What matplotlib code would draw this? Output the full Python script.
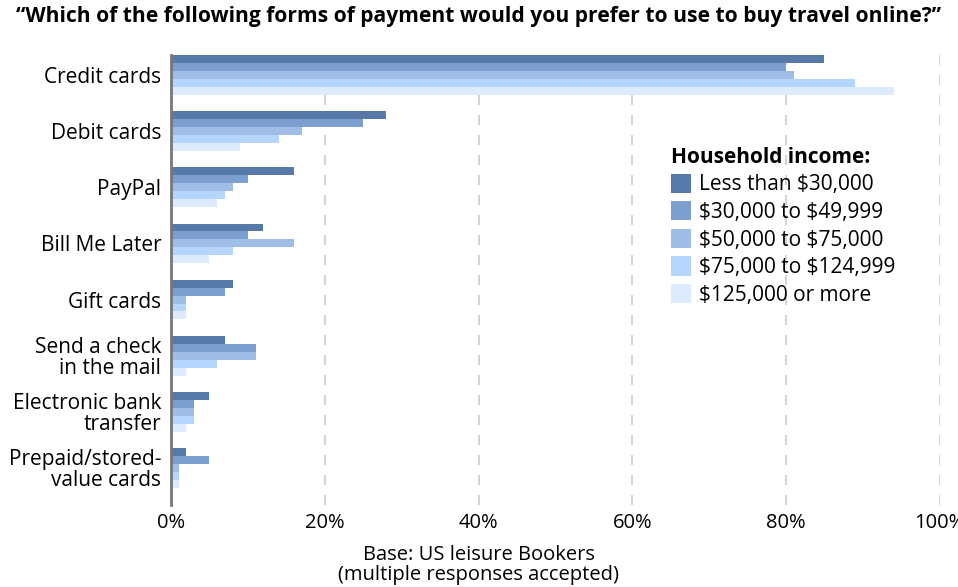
import numpy as np
import matplotlib.pyplot as plt
from matplotlib.patches import Patch

plt.rcParams['font.family'] = ['Open Sans', 'DejaVu Sans']

# survey answers, share of respondents (%) per income band
methods = ['Credit cards', 'Debit cards', 'PayPal', 'Bill Me Later', 'Gift cards',
           'Send a check\nin the mail', 'Electronic bank\ntransfer',
           'Prepaid/stored-\nvalue cards']
bands = ['Less than \\$30,000', '\\$30,000 to \\$49,999', '\\$50,000 to \\$75,000',
         '\\$75,000 to \\$124,999', '\\$125,000 or more']
under_30k = [85, 28, 16, 12, 8, 7, 5, 2]
k30_50 = [80, 25, 10, 10, 7, 11, 3, 5]
k50_75 = [81, 17, 8, 16, 2, 11, 3, 1]
k75_125 = [89, 14, 7, 8, 2, 6, 3, 1]
over_125k = [94, 9, 6, 5, 2, 2, 2, 1]
ticks = [0, 20, 40, 60, 80, 100]

series = [under_30k, k30_50, k50_75, k75_125, over_125k]
colors = ['#5779a8', '#7d9fd0', '#9fbde6', '#b6d5fc', '#deeafd']

fig = plt.figure(figsize=(9.58, 5.87), dpi=100)
ax = fig.add_axes([0.1785, 0.14, 0.8025, 0.766])

y = np.arange(len(methods))
h = 0.142
for i, (vals, c) in enumerate(zip(series, colors)):
    ax.barh(y - 2 * h + i * h, vals, height=h, color=c, edgecolor='none', zorder=3)

ax.set_xlim(0, 100)
ax.set_ylim(7.66, -0.356)
ax.set_xticks(ticks)
ax.set_xticklabels([f'{t}%' for t in ticks], fontsize=14.5)
ax.set_yticks(y)
ax.set_yticklabels(methods, fontsize=15, linespacing=1.0)
ax.tick_params(length=0, pad=7)
ax.tick_params(axis='x', pad=6)

for t in ticks[1:]:
    ax.axvline(t, color='#cccccc', lw=1.2, ls=(0, (6, 6)), zorder=1)

for s in ['top', 'right', 'bottom']:
    ax.spines[s].set_visible(False)
ax.spines['left'].set_color('#777777')
ax.spines['left'].set_linewidth(2)
ax.spines['left'].set_zorder(5)

ax.set_xlabel('Base: US leisure Bookers\n(multiple responses accepted)',
              fontsize=14.5, linespacing=1.0)
ax.xaxis.set_label_coords(0.4, -0.09)

fig.text(0.5, 0.972,
         '\u201cWhich of the following forms of payment would you prefer to use to buy travel online?\u201d',
         ha='center', va='center', fontsize=15.1, fontweight='bold')

handles = [Patch(facecolor=c, edgecolor='none') for c in colors]
leg = ax.legend(handles, bands, title='Household income:', loc='upper left',
                bbox_to_anchor=(0.64, 0.815), frameon=False, fontsize=15,
                handlelength=0.95, handleheight=1.05, handletextpad=0.4,
                labelspacing=0.28, alignment='left', borderaxespad=0)
leg.get_title().set_fontweight('bold')
leg.get_title().set_fontsize(15)

fig.savefig('out.png', dpi=100, facecolor='white')
